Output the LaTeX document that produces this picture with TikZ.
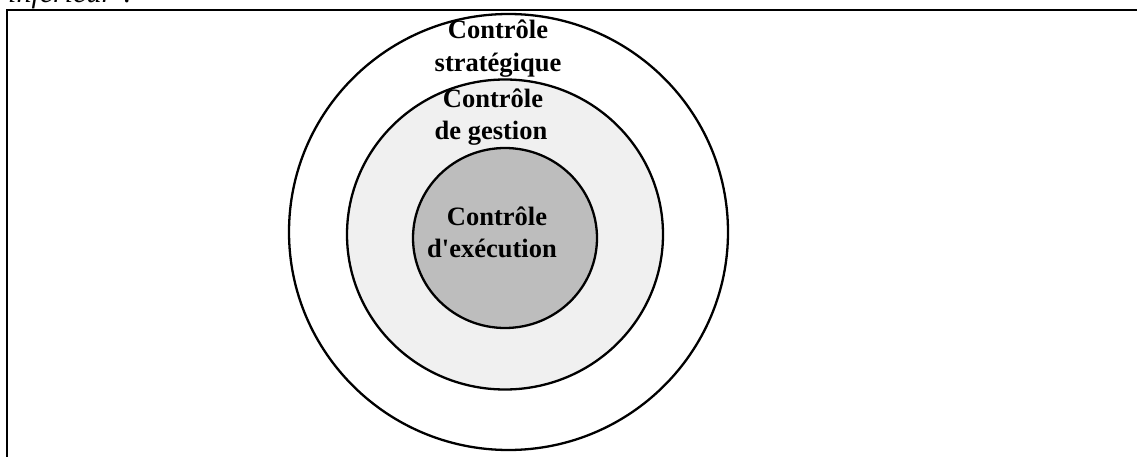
\documentclass[tikz,border=0pt]{standalone}
\usepackage{fontspec}
\setmainfont{Liberation Serif}[Ligatures=TeXOff]
\usetikzlibrary{shapes.geometric}
\begin{document}
\begin{tikzpicture}[x=1pt,y=-1pt,
  ring/.style={ellipse, draw=black, line width=2.3pt, inner sep=0pt},
  lbl/.style={anchor=base, inner sep=0pt, font=\fontsize{26.5}{32}\selectfont\bfseries},
  frame/.style={draw=black, line width=2.3pt}]
\useasboundingbox (0,0) rectangle (1137,457);
\begin{scope}
\clip (0,0) rectangle (1137,457);
\node[anchor=base west, inner sep=0pt, font=\fontsize{30}{36}\selectfont\itshape] (cut) at (8,3) {inférieur ?};
\coordinate (bl) at (7,460);
\coordinate (tl) at (7,10);
\coordinate (tr) at (1140,10);
\draw[frame] (bl) -- (tl) -- (tr);
\end{scope}
\node[ring, fill=white, minimum width=439pt, minimum height=436pt] (outer) at (508.5,232) {};
\node[ring, fill=black!6, minimum width=316pt, minimum height=310pt] (middle) at (505,234.5) {};
\node[ring, fill=black!26, minimum width=184pt, minimum height=180pt] (inner) at (505,238) {};
\node[lbl] (s1) at (498,39) {Contrôle};
\node[lbl] (s2) at (498,72) {stratégique};
\node[lbl] (g1) at (493,108) {Contrôle};
\node[lbl] (g2) at (491,140) {de gestion};
\node[lbl] (e1) at (497,225) {Contrôle};
\node[lbl] (e2) at (492,257) {d'exécution};
\end{tikzpicture}
\end{document}
